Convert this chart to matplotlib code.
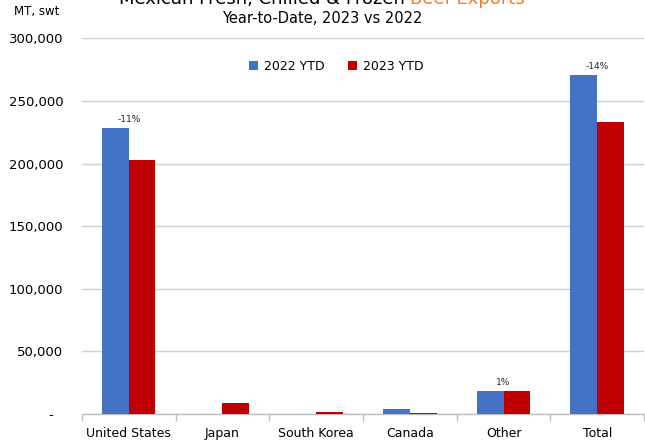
import matplotlib
matplotlib.use("Agg")
import matplotlib.pyplot as plt
import matplotlib.transforms as mtransforms
import numpy as np
from matplotlib.ticker import FuncFormatter, FixedLocator

categories = ["United States", "Japan", "South Korea", "Canada", "Other", "Total"]
ytd_2022 = [228200, 0, 0, 4200, 18200, 270800]
ytd_2023 = [202600, 8800, 1600, 800, 18400, 233500]
change_labels = ["-11%", None, None, None, "1%", "-14%"]
series_names = ["2022 YTD", "2023 YTD"]

plt.rcParams['font.family'] = ['DejaVu Sans']

fig = plt.figure(figsize=(6.45, 4.42), dpi=100)
ax = fig.add_axes([0.127, 0.0633, 0.8715, 0.85])

x = np.arange(len(categories))
w = 0.285
blue = "#4472C4"
red = "#C00000"
ax.bar(x - w/2, ytd_2022, w, color=blue, label=series_names[0], zorder=3)
ax.bar(x + w/2, ytd_2023, w, color=red, label=series_names[1], zorder=3)

for i, lab in enumerate(change_labels):
    if lab:
        top = max(ytd_2022[i], ytd_2023[i])
        ax.annotate(lab, (x[i], top), xytext=(0, 3), textcoords="offset points",
                    ha="center", va="bottom", fontsize=6.5, color="#262626")

ax.set_xlim(-0.5, len(categories) - 0.5)
ax.set_ylim(0, 300000)
ax.set_yticks(np.arange(0, 300001, 50000))
ax.yaxis.set_major_formatter(FuncFormatter(lambda v, p: "-" if v == 0 else f"{int(v):,}"))
ax.grid(axis="y", color="#D0D0D0", linewidth=1, zorder=0)
ax.set_axisbelow(True)
for s in ["left", "right", "top"]:
    ax.spines[s].set_visible(False)
ax.spines["bottom"].set_color("#BFBFBF")
ax.spines["bottom"].set_linewidth(1)
ax.tick_params(axis="y", length=0, pad=13.5, labelsize=9.5, labelcolor="#000000")
ax.set_xticks(x)
ax.set_xticklabels(categories)
ax.tick_params(axis="x", which="major", length=0, pad=9, labelsize=9)
ax.xaxis.set_minor_locator(FixedLocator(np.arange(-0.5, len(categories), 1.0)))
ax.tick_params(axis="x", which="minor", length=5, color="#BFBFBF", width=1)

fig.canvas.draw()
lbl0 = [t for t in ax.get_yticklabels() if t.get_text() == "-"]
for t in lbl0:
    t.set_transform(t.get_transform() + mtransforms.ScaledTranslation(-7/72, 0, fig.dpi_scale_trans))

leg = ax.legend(loc="upper center", bbox_to_anchor=(0.453, 0.972), ncol=2, frameon=False,
                fontsize=9, handlelength=0.7, handleheight=0.7, columnspacing=1.9,
                handletextpad=0.5)

# Title
fig.text(0.5, 1 - 18.5/442, "Year-to-Date, 2023 vs 2022", ha="center", va="center", fontsize=10.5)
renderer = fig.canvas.get_renderer()
ty = 1 - (-1.5)/442
t1 = fig.text(0, ty, "Mexican Fresh, Chilled & Frozen ", ha="left", va="center", fontsize=13)
t2 = fig.text(0, ty, "Beef Exports", ha="left", va="center", fontsize=13, color="#F47B2A")
b1 = t1.get_window_extent(renderer)
b2 = t2.get_window_extent(renderer)
total = b1.width + b2.width
start = 322 - total / 2
t1.set_x(start / 645)
t2.set_x((start + b1.width) / 645)

fig.text(14/645, 1 - 12/442, "MT, swt", ha="left", va="center", fontsize=8.5)

fig.savefig("out.png", dpi=100)
